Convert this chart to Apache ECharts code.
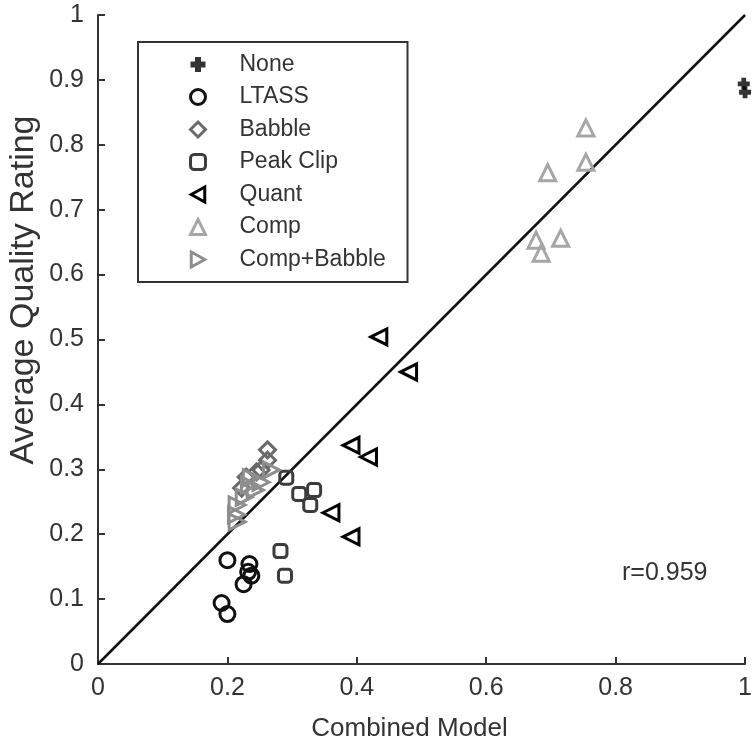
<!DOCTYPE html>
<html>
<head>
<meta charset="utf-8">
<script src="https://cdn.jsdelivr.net/npm/echarts@6/dist/echarts.min.js"></script>
<style>html,body{margin:0;padding:0;background:#fff}#c{width:755px;height:751px}</style>
</head>
<body>
<div id="c"></div>
<script>
// ---- data (Combined Model x, Average Quality Rating y) ----
const noneX = [0.998, 1.0];
const noneY = [0.894, 0.881];
const ltassX = [0.200, 0.234, 0.237, 0.225, 0.232, 0.191, 0.200];
const ltassY = [0.160, 0.154, 0.136, 0.123, 0.142, 0.094, 0.077];
const babbleX = [0.262, 0.262, 0.252, 0.245, 0.229, 0.222];
const babbleY = [0.330, 0.314, 0.299, 0.296, 0.288, 0.271];
const peakX = [0.291, 0.311, 0.334, 0.328, 0.282, 0.289];
const peakY = [0.287, 0.262, 0.268, 0.245, 0.174, 0.136];
const quantX = [0.434, 0.480, 0.391, 0.418, 0.360, 0.391];
const quantY = [0.504, 0.450, 0.337, 0.319, 0.233, 0.196];
const compX = [0.754, 0.754, 0.695, 0.677, 0.685, 0.715];
const compY = [0.826, 0.773, 0.757, 0.653, 0.633, 0.656];
const cbX = [0.268, 0.237, 0.252, 0.234, 0.243, 0.226, 0.215, 0.214, 0.215];
const cbY = [0.299, 0.287, 0.280, 0.276, 0.268, 0.257, 0.245, 0.230, 0.219];
const refLineX = [0, 1];
const refLineY = [0, 1];
const seriesNames = ['None', 'LTASS', 'Babble', 'Peak Clip', 'Quant', 'Comp', 'Comp+Babble'];
const xTicks = [0, 0.2, 0.4, 0.6, 0.8, 1];
const yTicks = [0, 0.1, 0.2, 0.3, 0.4, 0.5, 0.6, 0.7, 0.8, 0.9, 1];
const rText = 'r=0.959';

const pairs = (xs, ys) => xs.map((x, i) => [x, ys[i]]);
const FONT = 'Liberation Sans, Arial, sans-serif';
const TXT = '#333';

const colors = {
  'None': '#000', 'LTASS': '#111', 'Babble': '#6a6a6a', 'Peak Clip': '#3c3c3c',
  'Quant': '#000', 'Comp': '#a6a6a6', 'Comp+Babble': '#8e8e8e'
};
const legendIcons = {
  'Quant': 'path://M0,5L9,0L9,10Z',
  'Comp+Babble': 'path://M9,5L0,0L0,10Z'
};

function hollow(name, xs, ys, symbol, size, rot) {
  return {
    name, type: 'scatter', data: pairs(xs, ys), symbol, symbolSize: size,
    symbolRotate: rot || 0,
    itemStyle: { color: 'rgba(0,0,0,0)', borderColor: colors[name], borderWidth: 3, opacity: 1 },
    emphasis: { disabled: true }, z: 3
  };
}

const legendData = seriesNames.map(n => {
  const item = n === 'None'
    ? { name: n, itemStyle: { color: '#000', borderWidth: 0 } }
    : { name: n, itemStyle: { color: 'rgba(0,0,0,0)', borderColor: colors[n], borderWidth: 3 } };
  if (legendIcons[n]) item.icon = legendIcons[n];
  return item;
});

const chart = echarts.init(document.getElementById('c'), null, { renderer: 'canvas' });
chart.setOption({
  animation: false,
  backgroundColor: '#fff',
  grid: { left: 98, right: 7, top: 15, bottom: 87, containLabel: false },
  xAxis: {
    type: 'value', min: 0, max: 1, interval: 0.2,
    name: 'Combined Model', nameLocation: 'middle', nameGap: 52,
    nameTextStyle: { fontFamily: FONT, fontSize: 26, color: TXT, padding: [0, 24, 0, 0] },
    axisLine: { lineStyle: { color: '#333', width: 2 } },
    axisTick: { inside: true, length: 7, lineStyle: { color: '#333', width: 2 } },
    axisLabel: { fontFamily: FONT, fontSize: 25, color: TXT, margin: 12,
      formatter: v => String(xTicks.find(t => Math.abs(t - v) < 1e-9) ?? v) },
    splitLine: { show: false }
  },
  yAxis: {
    type: 'value', min: 0, max: 1, interval: 0.1,
    axisLine: { show: true, lineStyle: { color: '#333', width: 2 } },
    axisTick: { show: true, inside: true, length: 7, lineStyle: { color: '#333', width: 2 } },
    axisLabel: { fontFamily: FONT, fontSize: 25, color: TXT, margin: 14,
      formatter: v => String(yTicks.find(t => Math.abs(t - v) < 1e-9) ?? v) },
    splitLine: { show: false }
  },
  legend: {
    data: legendData, orient: 'vertical', left: 138, top: 42,
    itemWidth: 15, itemHeight: 15, itemGap: 9.5,
    padding: [11, 14, 11, 51],
    borderColor: '#333', borderWidth: 2,
    textStyle: { fontFamily: FONT, fontSize: 23, color: TXT, lineHeight: 22, width: 154,
      padding: [0, 0, 0, 29] },
    selectedMode: false
  },
  graphic: [
    { type: 'text', x: 24, y: 290, rotation: Math.PI / 2,
      style: { text: 'Average Quality Rating', font: '34px ' + FONT, fill: TXT,
        textAlign: 'center', textVerticalAlign: 'middle' } },
    { type: 'text', left: 622, top: 561,
      style: { text: rText, font: '25px ' + FONT, fill: TXT } }
  ],
  series: [
    { name: 'ref', type: 'line', data: pairs(refLineX, refLineY), showSymbol: false, symbol: 'none',
      lineStyle: { color: '#111', width: 2.5 }, silent: true, z: 2 },
    { name: 'None', type: 'scatter', data: pairs(noneX, noneY),
      symbol: 'path://M3,0H7V3H10V7H7V10H3V7H0V3H3Z', symbolSize: 12,
      itemStyle: { color: '#000' }, z: 3 },
    hollow('LTASS', ltassX, ltassY, 'circle', 15),
    hollow('Babble', babbleX, babbleY, 'diamond', 16),
    hollow('Peak Clip', peakX, peakY, 'roundRect', 13),
    hollow('Quant', quantX, quantY, 'triangle', 16, 90),
    hollow('Comp', compX, compY, 'triangle', 16),
    hollow('Comp+Babble', cbX, cbY, 'triangle', 16, -90)
  ]
});
</script>
</body>
</html>
